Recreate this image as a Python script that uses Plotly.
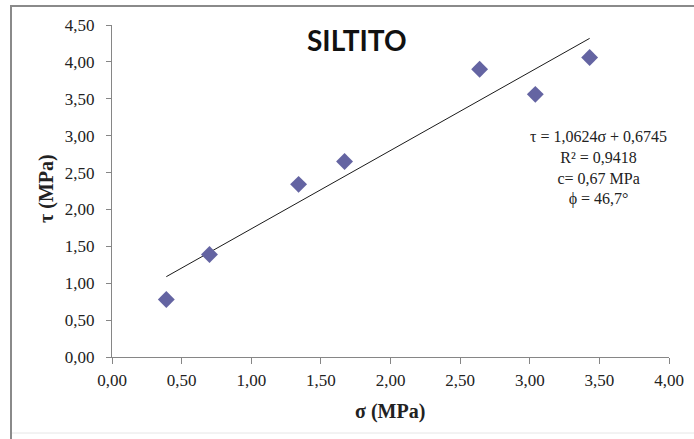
import plotly.graph_objects as go

# Direct shear test results for siltstone
sigma = [0.39, 0.70, 1.34, 1.67, 2.64, 3.04, 3.43]   # normal stress (MPa)
tau = [0.78, 1.39, 2.34, 2.65, 3.90, 3.56, 4.06]     # shear stress (MPa)

# Linear fit (Mohr-Coulomb envelope)
slope = 1.0624
intercept = 0.6745
fit_lines = ["τ = 1,0624σ + 0,6745", "R² = 0,9418", "c= 0,67 MPa", "ϕ = 46,7°"]

x_ticks = [0, 0.5, 1, 1.5, 2, 2.5, 3, 3.5, 4]
y_ticks = [0, 0.5, 1, 1.5, 2, 2.5, 3, 3.5, 4, 4.5]

SERIF = "Liberation Serif, Times New Roman, serif"

W, H = 694, 439
ML, MR, MT, MB = 112, 25, 25, 82
PW, PH = W - ML - MR, H - MT - MB


def px(xp):
    return (xp - ML) / PW


def py(yp):
    return (H - MB - yp) / PH


def fmt(v):
    return f"{v:.2f}".replace(".", ",")


fit_x = [min(sigma), max(sigma)]
fit_y = [slope * v + intercept for v in fit_x]

fig = go.Figure()
fig.add_trace(go.Scatter(
    x=fit_x, y=fit_y, mode="lines",
    line=dict(color="#1a1a1a", width=1), showlegend=False, hoverinfo="skip"))
fig.add_trace(go.Scatter(
    x=sigma, y=tau, mode="markers",
    marker=dict(symbol="diamond", size=13, color="#6464A2",
                line=dict(width=0)),
    showlegend=False))

axis_common = dict(
    showgrid=False, zeroline=False, showline=True, linecolor="#868686",
    linewidth=1, ticks="outside", tickcolor="#868686", tickwidth=1,
    tickfont=dict(family=SERIF, size=17, color="#222222"),
)

fig.update_xaxes(range=[0, 4], tickvals=x_ticks,
                 ticktext=[fmt(v) for v in x_ticks], ticklen=6,
                 ticklabelstandoff=2, **axis_common)
fig.update_yaxes(range=[0, 4.5], tickvals=y_ticks,
                 ticktext=[fmt(v) for v in y_ticks], ticklen=5,
                 ticklabelstandoff=8, **axis_common)

annotations = [
    dict(text="<b>SILTITO</b>", x=px(357), y=py(40), xref="paper", yref="paper",
         showarrow=False, xanchor="center", yanchor="middle",
         font=dict(family="Lato", size=28, color="#111111")),
    dict(text="<b>σ (MPa)</b>", x=px(390), y=py(411), xref="paper", yref="paper",
         showarrow=False, xanchor="center", yanchor="middle",
         font=dict(family=SERIF, size=20, color="#222222")),
    dict(text="<b>τ (MPa)</b>", x=px(46), y=py(189), xref="paper", yref="paper",
         showarrow=False, xanchor="center", yanchor="middle", textangle=-90,
         font=dict(family=SERIF, size=20, color="#222222")),
    dict(text="<br>".join(fit_lines), x=px(598), y=py(168),
         xref="paper", yref="paper", showarrow=False,
         xanchor="center", yanchor="middle", align="center",
         font=dict(family=SERIF, size=16, color="#222222")),
]

shapes = [
    dict(type="rect", xref="paper", yref="paper",
         x0=px(11), x1=px(W + 10), y0=py(6), y1=py(H + 10),
         line=dict(color="#8a8a8a", width=2), layer="below"),
    dict(type="line", xref="paper", yref="paper",
         x0=px(12), x1=px(W), y0=py(433), y1=py(433),
         line=dict(color="#e6e6e6", width=1), layer="below"),
]

fig.update_layout(
    width=W, height=H,
    margin=dict(l=ML, r=MR, t=MT, b=MB, autoexpand=False),
    paper_bgcolor="white", plot_bgcolor="white",
    annotations=annotations, shapes=shapes,
)

fig.write_html("out.html")
